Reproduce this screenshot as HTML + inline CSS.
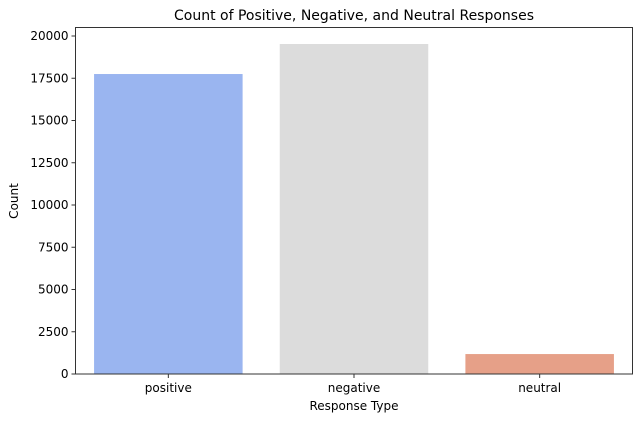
<!DOCTYPE html>
<html><head><meta charset="utf-8"><style>
body{margin:0;background:#fff;}
svg{display:block;font-family:"DejaVu Sans","Liberation Sans",sans-serif;}
</style></head><body>
<svg id="chart" width="642" height="421">
<text x="354" y="20" text-anchor="middle" font-size="14">Count of Positive, Negative, and Neutral Responses</text>
<g id="bars"></g>
<g id="yticks"></g>
<g id="xticks"></g>
<rect x="75.5" y="27.5" width="557" height="346.5" fill="none" stroke="#333" stroke-width="1"/>
<text x="354" y="410" text-anchor="middle" font-size="12">Response Type</text>
<text transform="translate(18,201) rotate(-90)" text-anchor="middle" font-size="12">Count</text>
</svg>
<script>
const categories=["positive","negative","neutral"];
const counts=[17750,19525,1180];
const colors=["#9ab5f0","#dcdcdc","#e6a088"];
const yTicks=[0,2500,5000,7500,10000,12500,15000,17500,20000];
const L=75.5,R=632.5,T=27.5,B=374;
function ys(v){return B-v/20000*(B-36);}
function xs(i){return L+(i+0.5)*(R-L)/categories.length;}
const ns="http://www.w3.org/2000/svg";
const bw=0.8*(R-L)/categories.length;
const gb=document.getElementById('bars'),gy=document.getElementById('yticks'),gx=document.getElementById('xticks');
counts.forEach((v,i)=>{const r=document.createElementNS(ns,'rect');
r.setAttribute('x',xs(i)-bw/2);r.setAttribute('y',ys(v));r.setAttribute('width',bw);r.setAttribute('height',B-ys(v));r.setAttribute('fill',colors[i]);


gb.appendChild(r);
const t=document.createElementNS(ns,'line');t.setAttribute('x1',xs(i));t.setAttribute('x2',xs(i));t.setAttribute('y1',B);t.setAttribute('y2',B+4);t.setAttribute('stroke','#333');gx.appendChild(t);
const tx=document.createElementNS(ns,'text');tx.setAttribute('x',xs(i));tx.setAttribute('y',B+18);tx.setAttribute('text-anchor','middle');tx.setAttribute('font-size','12');tx.textContent=categories[i];


gx.appendChild(tx);});
yTicks.forEach(v=>{const y=ys(v);const t=document.createElementNS(ns,'line');t.setAttribute('x1',L-4);t.setAttribute('x2',L);t.setAttribute('y1',y);t.setAttribute('y2',y);t.setAttribute('stroke','#333');gy.appendChild(t);
const tx=document.createElementNS(ns,'text');tx.setAttribute('x',L-7);tx.setAttribute('y',y+4);tx.setAttribute('text-anchor','end');tx.setAttribute('font-size','12');tx.textContent=v;


gy.appendChild(tx);});
</script>
</body></html>
